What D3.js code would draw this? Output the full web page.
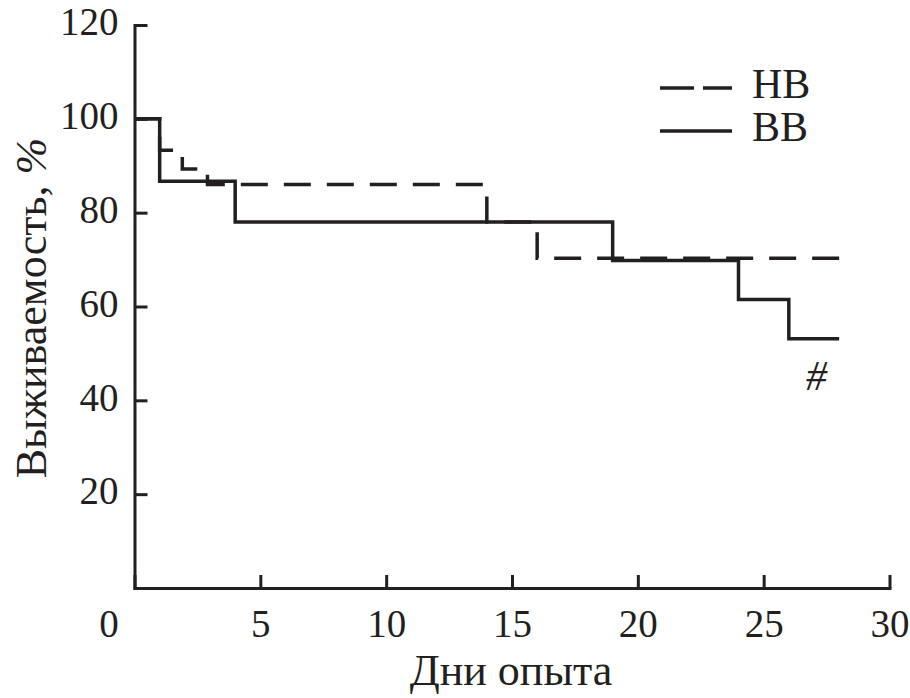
<!DOCTYPE html>
<html>
<head>
<meta charset="utf-8">
<script src="https://cdn.jsdelivr.net/npm/d3@7"></script>
<style>
  body { margin: 0; background: #fff; }
  svg { display: block; }
  text { font-family: "Liberation Serif", "Times New Roman", serif; fill: #231f20; }
</style>
</head>
<body>
<script>
// survival data (day, %)
var bbDays = [0, 1, 4, 19, 24, 26, 28];
var bbSurv = [100, 86.7, 78, 69.8, 61.5, 53.1, 53.1];

var hbDays = [0, 1, 1.9, 2.9, 14, 16, 28];
var hbSurv = [100, 93.3, 89.3, 86.0, 78, 70.3, 70.3];

var xTicks = [0, 5, 10, 15, 20, 25, 30];
var yTicks = [20, 40, 60, 80, 100, 120];
var legendNames = ["НВ", "ВВ"];

var svgWidth = 910;
var svgHeight = 698;
var ink = "#231f20";

var svg = d3.select("body")
  .append("svg")
  .attr("width", svgWidth)
  .attr("height", svgHeight);

//Scales
var x = d3.scaleLinear().domain([0, 30]).range([134.5, 889.5]);
var y = d3.scaleLinear().domain([0, 120]).range([588, 25]);

//x axis, ticks point inward
var xAxis = svg.append("g")
  .attr("transform", `translate(0,${y(0)})`)
  .call(d3.axisBottom(x).tickValues(xTicks).tickSizeInner(-13).tickSizeOuter(0));
xAxis.selectAll("text")
  .attr("y", 49).attr("dy", 0)
  .attr("x", d => d === 0 ? -26 : 0)
  .style("font-size", "39px");

//y axis
var yAxis = svg.append("g")
  .attr("transform", `translate(${x(0)},0)`)
  .call(d3.axisLeft(y).tickValues(yTicks).tickSizeInner(-13).tickSizeOuter(0));
yAxis.selectAll("text")
  .attr("x", -16).attr("dy", "0.25em")
  .style("font-size", "39px");

svg.selectAll(".domain, .tick line")
  .attr("stroke", ink)
  .attr("stroke-width", 3);
svg.selectAll(".domain").attr("stroke-linecap", "square");

//Step curves
var line = d3.line()
  .x(d => x(d[0]))
  .y(d => y(d[1]))
  .curve(d3.curveStepAfter);

var hbData = hbDays.map((d, i) => [d, hbSurv[i]]);
var bbData = bbDays.map((d, i) => [d, bbSurv[i]]);

svg.append("path")
  .datum(hbData)
  .attr("d", line)
  .attr("fill", "none")
  .attr("stroke", ink)
  .attr("stroke-width", 3.5)
  .attr("stroke-dasharray", "27,16");

svg.append("path")
  .datum(bbData)
  .attr("d", line)
  .attr("fill", "none")
  .attr("stroke", ink)
  .attr("stroke-width", 3.5);

//significance mark
svg.append("text")
  .attr("x", x(27.1))
  .attr("y", 390)
  .attr("text-anchor", "middle")
  .style("font-size", "42px")
  .style("font-style", "italic")
  .text("#");

//Legend
var legend = svg.append("g");
[88, 131].forEach(function(ly, i) {
  legend.append("line")
    .attr("x1", 660).attr("x2", 732)
    .attr("y1", ly).attr("y2", ly)
    .attr("stroke", ink)
    .attr("stroke-width", 3.5)
    .attr("stroke-dasharray", i === 0 ? "34,9" : null);
  legend.append("text")
    .attr("x", 752)
    .attr("y", ly + 10)
    .style("font-size", "42px")
    .text(legendNames[i]);
});

//Axis titles
svg.append("text")
  .attr("x", 511)
  .attr("y", 685)
  .attr("text-anchor", "middle")
  .style("font-size", "44px")
  .text("Дни опыта");

var yTitle = svg.append("text")
  .attr("transform", "rotate(-90)")
  .attr("x", -308)
  .attr("y", 46)
  .attr("text-anchor", "middle")
  .style("font-size", "44px");
yTitle.append("tspan").text("Выживаемость, ");
yTitle.append("tspan").style("font-style", "italic").text("%");
</script>
</body>
</html>
